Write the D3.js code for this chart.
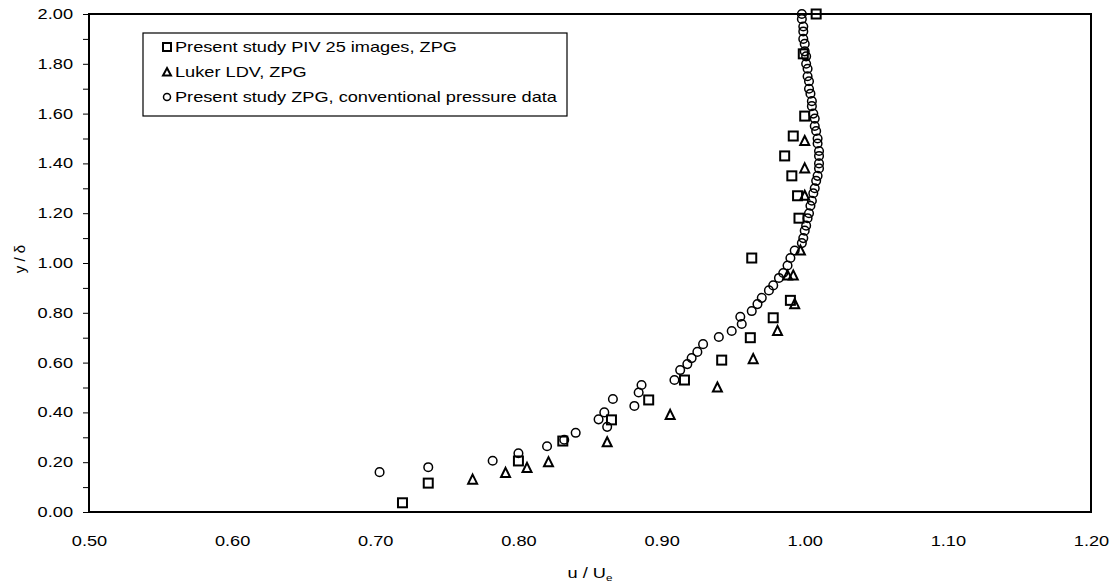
<!DOCTYPE html>
<html><head><meta charset="utf-8">
<script src="https://cdn.jsdelivr.net/npm/d3@7"></script>
<style>body{margin:0;background:#fff;} svg{display:block;font-family:"Liberation Sans",Arial,sans-serif;}</style>
</head><body>
<svg id="c" width="1117" height="586"></svg>
<script>
// PIV squares [u/Ue, y/delta]
const pivU = [1.008,0.999,1.000,0.992,0.986,0.991,0.995,0.996,0.963,0.990,0.978,0.962,0.942,0.916,0.891,0.865,0.831,0.800,0.737,0.719];
const pivY = [2.00,1.84,1.59,1.51,1.43,1.35,1.27,1.18,1.02,0.85,0.78,0.70,0.61,0.53,0.45,0.37,0.285,0.205,0.116,0.037];
// Luker LDV triangles
const lukU = [1.000,1.000,1.000,0.997,0.992,0.988,0.993,0.981,0.964,0.939,0.906,0.862,0.821,0.806,0.791,0.768];
const lukY = [1.49,1.38,1.27,1.05,0.95,0.95,0.835,0.727,0.614,0.50,0.39,0.28,0.20,0.177,0.157,0.13];
// conventional pressure data circles
const pU = [0.703,0.737,0.782,0.800,0.820,0.832,0.840,0.856,0.860,0.862,0.866,0.881,0.884,0.886,0.909,0.913,0.918,0.921,0.925,0.929,0.940,0.949,0.956,0.955,0.963,0.967,
  0.970,0.975,0.978,0.982,0.985,0.988,0.990,0.993,
  0.998,0.999,1.000,1.001,1.002,1.003,1.004,1.005,1.006,1.007,1.008,1.009,1.010,1.010,1.010,1.010,1.009,1.009,1.008,1.007,1.007,1.006,1.005,1.005,1.004,1.003,1.003,1.002,1.002,1.001,1.001,1.000,1.000,0.999,0.999,0.999,0.998,0.998];
const pY = [0.16,0.18,0.206,0.236,0.264,0.29,0.318,0.372,0.40,0.342,0.454,0.426,0.48,0.51,0.53,0.57,0.594,0.618,0.643,0.674,0.703,0.727,0.755,0.784,0.807,0.835,
  0.86,0.89,0.91,0.94,0.96,0.99,1.02,1.05,
  1.08,1.10,1.13,1.15,1.18,1.20,1.23,1.25,1.28,1.30,1.33,1.35,1.38,1.40,1.43,1.45,1.48,1.50,1.53,1.55,1.58,1.60,1.63,1.65,1.68,1.70,1.73,1.75,1.78,1.80,1.83,1.85,1.88,1.90,1.93,1.95,1.98,2.00];
const xTicks = [0.5,0.6,0.7,0.8,0.9,1.0,1.1,1.2];
const yTicks = [0,0.2,0.4,0.6,0.8,1.0,1.2,1.4,1.6,1.8,2.0];
const legendLabels = ["Present study PIV 25 images, ZPG","Luker LDV, ZPG","Present study ZPG, conventional pressure data"];

const svg = d3.select("#c");
const L=89, R=1091, T=14, B=512;
const SX = 1.3; // horizontal stretch of the scanned lettering
const x = d3.scaleLinear().domain([0.5,1.2]).range([L,R]);
const y = d3.scaleLinear().domain([0,2]).range([B,T]);

function stretch(sel){
  sel.each(function(){
    const t=d3.select(this);
    const tx=+t.attr("x")||0;
    t.attr("x",tx/SX).attr("transform",`scale(${SX},1)`);
  });
}

// y axis
const yAx = svg.append("g").attr("transform",`translate(${L},0)`)
  .call(d3.axisLeft(y).tickValues(d3.range(0,2.001,0.1)).tickSize(6).tickFormat(d=>{
    const r=Math.round(d*10); return r%2===0? d3.format(".2f")(d):"";}));
yAx.select(".domain").remove();
yAx.selectAll("line").attr("stroke","#000").attr("stroke-width",1);
yAx.selectAll("text").attr("font-size",14).attr("fill","#000").attr("x",-16).attr("font-family","Liberation Sans, Arial, sans-serif").call(stretch);

// x axis
const xAx = svg.append("g").attr("transform",`translate(0,${B})`)
  .call(d3.axisBottom(x).tickValues(xTicks).tickSize(0).tickPadding(24).tickFormat(d3.format(".2f")));
xAx.select(".domain").remove();
xAx.selectAll("text").attr("font-size",14).attr("fill","#000").attr("font-family","Liberation Sans, Arial, sans-serif").call(stretch);

// frame
svg.append("rect").attr("x",L).attr("y",T).attr("width",R-L).attr("height",B-T)
  .attr("fill","none").attr("stroke","#000").attr("stroke-width",2);

// axis titles
svg.append("text").attr("transform",`translate(25,${(T+B)/2 - 4}) rotate(-90)`).attr("text-anchor","middle")
  .attr("font-size",15).text("y / δ");
const xt = svg.append("text").attr("x",(L+R)/2/SX).attr("y",578).attr("text-anchor","middle").attr("font-size",14).attr("transform",`scale(${SX},1)`);
xt.append("tspan").text("u / U");
xt.append("tspan").attr("font-size",9).attr("dy",3).text("e");

const g = svg.append("g");
const sq = 9, tri = 9;
function square(gs, cx, cy){ gs.append("rect").attr("x",cx-sq/2).attr("y",cy-sq/2).attr("width",sq).attr("height",sq).attr("fill","none").attr("stroke","#000").attr("stroke-width",2); }
function triangle(gs, cx, cy){ const h=tri*0.9; gs.append("path").attr("d",`M${cx},${cy-h/2-1}L${cx+tri/2},${cy+h/2}L${cx-tri/2},${cy+h/2}Z`).attr("fill","none").attr("stroke","#000").attr("stroke-width",2).attr("stroke-linejoin","miter"); }
function circle(gs, cx, cy){ gs.append("circle").attr("cx",cx).attr("cy",cy).attr("r",4.3).attr("fill","none").attr("stroke","#000").attr("stroke-width",1.5); }

pU.forEach((u,i)=>circle(g,x(u),y(pY[i])));
lukU.forEach((u,i)=>triangle(g,x(u),y(lukY[i])));
pivU.forEach((u,i)=>square(g,x(u),y(pivY[i])));

// legend
const lg = svg.append("g");
lg.append("rect").attr("x",143).attr("y",33).attr("width",424).attr("height",83).attr("fill","#fff").attr("stroke","#000").attr("stroke-width",1.2);
const rowsY=[47,72,97];
legendLabels.forEach((t,i)=>{
  const gg=lg.append("g");
  const mx=167;
  if(i===0){ gg.append("rect").attr("x",mx-4).attr("y",rowsY[i]-4).attr("width",8).attr("height",8).attr("fill","none").attr("stroke","#000").attr("stroke-width",2);}
  else if(i===1){ gg.append("path").attr("d",`M${mx},${rowsY[i]-4}L${mx+4},${rowsY[i]+3.5}L${mx-4},${rowsY[i]+3.5}Z`).attr("fill","none").attr("stroke","#000").attr("stroke-width",2);}
  else { gg.append("circle").attr("cx",mx).attr("cy",rowsY[i]).attr("r",3.5).attr("fill","none").attr("stroke","#000").attr("stroke-width",1.5);}
  lg.append("text").attr("x",175/SX).attr("y",rowsY[i]+5).attr("font-size",14).attr("transform",`scale(${SX},1)`).text(t);
});
</script>
</body></html>
